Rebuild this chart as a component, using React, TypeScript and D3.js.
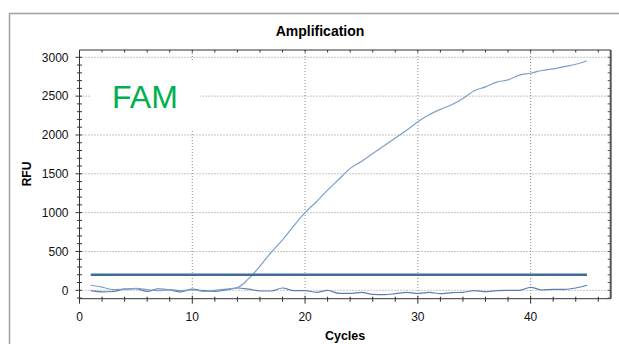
import React from 'react';
import * as d3 from 'd3';

const cycles = [1, 2, 3, 4, 5, 6, 7, 8, 9, 10, 11, 12, 13, 14, 15, 16, 17, 18, 19, 20, 21, 22, 23, 24, 25, 26, 27, 28, 29, 30, 31, 32, 33, 34, 35, 36, 37, 38, 39, 40, 41, 42, 43, 44, 45];

// sample well, amplifies
const famSample = [65, 40, 10, 15, 25, 10, -5, 10, -5, 10, -15, 0, 15, 35, 150, 310, 490, 650, 830, 1000, 1140, 1290, 1430, 1570, 1660, 1760, 1860, 1960, 2060, 2170, 2260, 2330, 2390, 2470, 2570, 2620, 2680, 2710, 2770, 2795, 2830, 2850, 2880, 2910, 2956];

// negative well, stays flat
const famNegative = [-5, -20, -15, 15, 20, -15, 20, 5, -20, 15, -5, -15, 5, 30, 15, -9, -9, 30, -5, -5, -26, 0, -39, -39, -26, -52, -56, -43, -26, -39, -26, -43, -30, -26, -5, -18, -5, 0, 0, 39, 4, 13, 13, 30, 65];

const threshold = 200;

const xMajor = [0, 10, 20, 30, 40];
const yMajor = [0, 500, 1000, 1500, 2000, 2500, 3000];

const W = 619;
const H = 344;
const plot = { left: 79.5, right: 610.7, top: 50, bottom: 298.7 };

const font = '"Liberation Sans", Arial, sans-serif';

export default function App() {
  const x = d3.scaleLinear().domain([0, 47.1]).range([plot.left, plot.right]);
  const y = d3.scaleLinear().domain([-108, 3094]).range([plot.bottom, plot.top]);

  const line = d3
    .line<number>()
    .x((_, i) => x(cycles[i]))
    .y((d) => y(d))
    .curve(d3.curveMonotoneX);

  const xMinor = d3.range(0, 47, 2);
  const yMinor = d3.range(-100, 3001, 100);

  return (
    <svg
      width={W}
      height={H}
      style={{ position: 'absolute', left: 0, top: 0, background: '#fff', fontFamily: font }}
    >
      {/* frame */}
      <rect x={9.5} y={13.5} width={640} height={360} fill="#fff" stroke="#a0a0a0" strokeWidth={1.5} />

      <text x={320} y={36} textAnchor="middle" fontSize={14} fontWeight="bold" fill="#000">
        Amplification
      </text>

      {/* grid */}
      {yMajor.map((t) => (
        <line key={`gy${t}`} x1={plot.left} x2={plot.right} y1={y(t)} y2={y(t)} stroke="#8a8a8a" strokeWidth={1} strokeDasharray="1,2" />
      ))}
      {xMajor.filter((t) => t > 0).map((t) => (
        <line key={`gx${t}`} x1={x(t)} x2={x(t)} y1={plot.top} y2={plot.bottom} stroke="#8a8a8a" strokeWidth={1} strokeDasharray="1,2" />
      ))}

      {/* FAM label pasted over the plot */}
      <rect x={90} y={60} width={110} height={70} fill="#fff" />
      <text x={112} y={107.5} fontSize={32} fill="#00b050" fontFamily='"Liberation Sans", Arial, sans-serif'>
        FAM
      </text>

      {/* series */}
      <path d={line(famNegative) ?? ''} fill="none" stroke="#5b80ad" strokeWidth={1.2} />
      <path d={line(famSample) ?? ''} fill="none" stroke="#7e9fc8" strokeWidth={1.2} />
      <line x1={x(cycles[0])} x2={x(cycles[cycles.length - 1])} y1={y(threshold)} y2={y(threshold)} stroke="#3f6c99" strokeWidth={2.5} />

      {/* axes frame */}
      <line x1={plot.left} x2={plot.right} y1={plot.top} y2={plot.top} stroke="#333" strokeWidth={1} />
      <line x1={plot.left} x2={plot.right} y1={plot.bottom} y2={plot.bottom} stroke="#333" strokeWidth={1} />
      <line x1={plot.left} x2={plot.left} y1={plot.top} y2={plot.bottom + 3} stroke="#333" strokeWidth={1} />
      <line x1={plot.right} x2={plot.right} y1={plot.top} y2={plot.bottom} stroke="#555" strokeWidth={2} />

      {/* y ticks */}
      {yMinor.map((t) => (
        <g key={`yt${t}`}>
          <line x1={t % 500 === 0 ? plot.left - 4 : plot.left - 2.5} x2={plot.left + 2.5} y1={y(t)} y2={y(t)} stroke="#333" />
          <line x1={plot.right - 3} x2={plot.right} y1={y(t)} y2={y(t)} stroke="#555" />
        </g>
      ))}
      {yMajor.map((t) => (
        <text key={`yl${t}`} x={68.5} y={y(t) + 4.3} textAnchor="end" fontSize={12} fill="#111">
          {t}
        </text>
      ))}

      {/* x ticks */}
      {xMinor.map((t) => (
        <g key={`xt${t}`}>
          <line x1={x(t)} x2={x(t)} y1={plot.bottom - (t % 10 === 0 ? 3 : 2)} y2={plot.bottom + (t % 10 === 0 ? 5 : 3)} stroke="#333" />
          <line x1={x(t)} x2={x(t)} y1={plot.top} y2={plot.top + 2.5} stroke="#333" />
        </g>
      ))}
      {xMajor.map((t) => (
        <text key={`xl${t}`} x={x(t)} y={320.5} textAnchor="middle" fontSize={12} fill="#111">
          {t}
        </text>
      ))}

      <text x={(plot.left + plot.right) / 2} y={339.5} textAnchor="middle" fontSize={12.5} fontWeight="bold" fill="#000">
        Cycles
      </text>
      <text transform={`translate(31, 174) rotate(-90)`} textAnchor="middle" fontSize={12} fontWeight="bold" fill="#000">
        RFU
      </text>
    </svg>
  );
}
